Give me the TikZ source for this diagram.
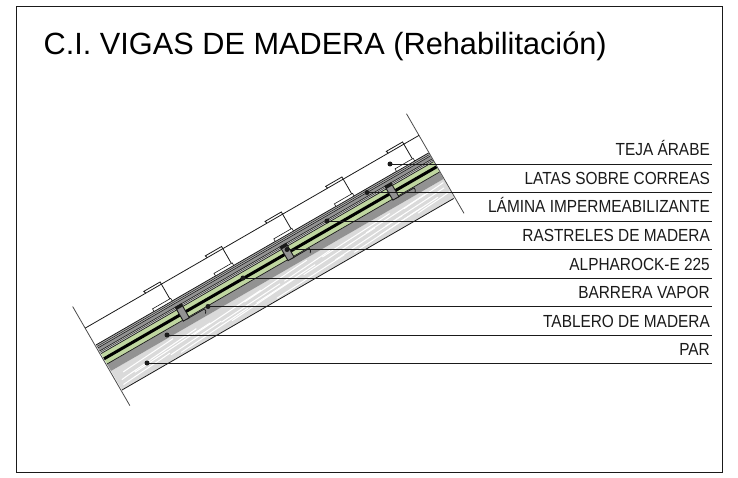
\documentclass[tikz,border=0pt]{standalone}
\usepackage{fontspec}
\setmainfont{Liberation Sans}
\newfontfamily\tagfont[FakeStretch=.88]{Liberation Sans}
\definecolor{parcol}{HTML}{DADADA}
\definecolor{grayband}{HTML}{929292}
\definecolor{greenband}{HTML}{BFD6A0}
\definecolor{inkcol}{HTML}{1A1A1A}
\tikzset{
  frameline/.style={draw=inkcol,line width=1pt},
  thinline/.style={draw=inkcol,line width=.8pt},
  cutline/.style={draw=black!70,line width=.8pt},
  leader/.style={draw=inkcol,line width=.9pt},
  tagdot/.style={circle,fill=inkcol,inner sep=0pt,minimum size=5pt},
  tagtext/.style={anchor=base east,inner sep=0pt,font=\tagfont\fontsize{17.5}{18}\selectfont,text=inkcol},
  rastrel/.style={fill=grayband,draw=inkcol,line width=.9pt},
}
\newcommand{\lband}[3]{\fill[#3] (0,#1) rectangle (384,#2);}
\newcommand{\lrule}[2]{\draw[draw=inkcol,line width=#2] (0,#1) -- (384,#1);}
\begin{document}
\begin{tikzpicture}[x=1pt,y=1pt]
\useasboundingbox (0,0) rectangle (738,477);
\fill[white] (0,0) rectangle (738,477);
\draw[frameline] (16,5) rectangle (722,470.5);
\node[anchor=base west,inner sep=0pt,font=\fontsize{30.7}{34}\selectfont,text=black] (title) at (43.5,422.5) {C.I. VIGAS DE MADERA (Rehabilitación)};
\begin{scope}[shift={(122,87)},rotate=30]
  % par
  \fill[parcol] (0,0) rectangle (384,22);
  \begin{scope}
    \clip (0,0) rectangle (384,22);
    \foreach \a/\b/\c/\d in {4/4/60/8,20/9/110/14,10/15/70/19,70/3/150/8,90/12/170/17,130/5/205/10,150/15/225/20,
      180/2/260/6,215/9/300/14,240/15/320/19,270/3/350/8,310/10/380/14,335/16/382/19,40/12/95/16,195/13/250/17,
      120/9/190/13,250/6/330/11,345/5/383/8,5/9/40/12,290/14/360/18,60/6/120/10,160/8/230/12,300/5/370/9}
      \draw[white,line width=1pt] (\a,\b) .. controls ({\a+(\c-\a)/3},{\b+1.5}) and ({\a+2*(\c-\a)/3},{\d-1.5}) .. (\c,\d);
  \end{scope}
  % layers
  \lband{22}{30}{grayband}
  \lband{30}{42}{greenband}
  \lband{34.5}{37.5}{black}
  \lband{42}{45}{black!22}
  \lband{45}{48.5}{grayband}
  \lband{48.5}{52}{black!30}
  \lrule{30}{.7pt}
  \lrule{42}{.7pt}
  \lrule{43.6}{.4pt}
  \lrule{45}{.6pt}
  \lrule{48.5}{.6pt}
  \lrule{50.2}{.5pt}
  \lrule{52}{.8pt}
  % rastreles and hooks
  \foreach \u in {91,212,333}{
    \draw[thinline] (\u,29) -- (\u+21,29) -- (\u+21,26.5) -- (\u+19.5,24.5);
    \draw[rastrel] (\u-3.5,29) rectangle (\u+3.5,45);
    \fill[inkcol] (\u-3.5,42) rectangle (\u+3.5,45);
  }
  % cuts and outer lines
  \draw[cutline] (-1,-17.5) -- (-1,97);
  \draw[cutline] (384.5,-18) -- (384.5,97);
  \draw[thinline] (0,0) -- (383,0);
  % tiles
  \draw[thinline] (-1,72) -- (384.5,72);
  \foreach \u in {87,158,227,297,367}{
    \fill[white,draw=inkcol,line width=.6pt] (\u-20,52) rectangle (\u+1,55);
    \draw[thinline] (\u-18,72) -- (\u-18.8,74.5) -- (\u,74.5) -- (\u,55);
  }
\end{scope}
% leaders
\node[tagdot] (d1) at (390,313) {};
\node[tagdot] (d2) at (367,284.5) {};
\node[tagdot] (d3) at (327,256) {};
\node[tagdot] (d4) at (287,227.5) {};
\node[tagdot] (d5) at (243,199) {};
\node[tagdot] (d6) at (208,170.5) {};
\node[tagdot] (d7) at (167,142) {};
\node[tagdot] (d8) at (147,114) {};
\foreach \i/\y in {1/313,2/284.5,3/256,4/227.5,5/199,6/170.5,7/142,8/114}{
  \coordinate (e\i) at (712,\y);
  \draw[leader] (d\i.center) -- (e\i);
}
\node[tagtext] (t1) at (710,321) {TEJA ÁRABE};
\node[tagtext] (t2) at (710,292.5) {LATAS SOBRE CORREAS};
\node[tagtext] (t3) at (710,264) {LÁMINA IMPERMEABILIZANTE};
\node[tagtext] (t4) at (710,235.5) {RASTRELES DE MADERA};
\node[tagtext] (t5) at (710,207) {ALPHAROCK-E 225};
\node[tagtext] (t6) at (710,178.5) {BARRERA VAPOR};
\node[tagtext] (t7) at (710,150) {TABLERO DE MADERA};
\node[tagtext] (t8) at (710,122) {PAR};
\end{tikzpicture}
\end{document}
